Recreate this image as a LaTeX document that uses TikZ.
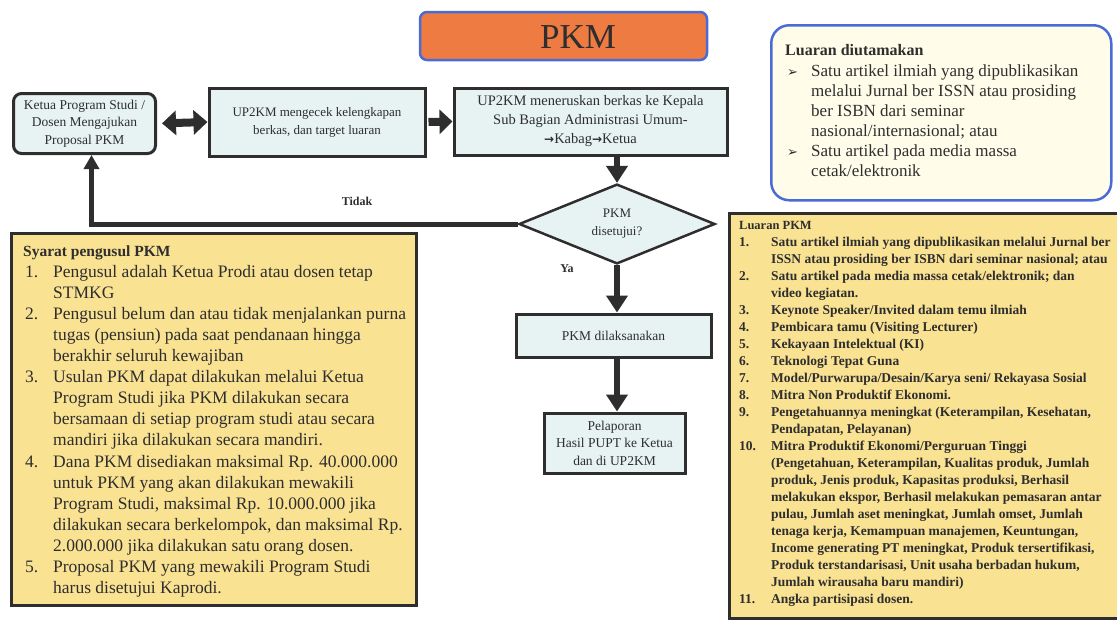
\documentclass[tikz,border=0pt]{standalone}
\usepackage{fontspec}
\setmainfont{Liberation Serif}
\newfontfamily\symfont{DejaVu Sans}
\usetikzlibrary{arrows.meta,shapes.geometric}

\definecolor{ink}{HTML}{2E2E2E}
\definecolor{boxfill}{HTML}{E7F2F2}
\definecolor{notefill}{HTML}{FAE293}
\definecolor{creamfill}{HTML}{FFFDE9}
\definecolor{titlefill}{HTML}{EE7B41}
\definecolor{frameblue}{HTML}{4A6BD6}

\newlength\pkmindent
\newcommand\pkmnum[1]{\makebox[\pkmindent][l]{#1}}
\newcommand\pkmcont{\hspace*{\pkmindent}}
\newcommand\pkmto{{\symfont\bfseries\fontsize{12}{12}\selectfont →}}
\newcommand\pkmbullet{{\symfont\fontsize{13}{13}\selectfont ➢}}

\tikzset{
  flowbox/.style={draw=ink, line width=3pt, fill=boxfill, align=center,
    inner sep=0pt, text=ink, font=\fontsize{13.5}{17.5}\selectfont},
  roundbox/.style={flowbox, rounded corners=8pt},
  decision/.style={diamond, draw=ink, line width=2.5pt, fill=boxfill,
    align=center, inner sep=0pt, text=ink, font=\fontsize{13}{18}\selectfont},
  notebox/.style={draw=ink, line width=2.5pt, fill=notefill, inner sep=0pt},
  flowarrow/.style={draw=ink, line width=6pt, -{Triangle[length=17pt,width=21pt]}},
  backarrow/.style={draw=ink, line width=5pt, -{Triangle[length=14pt,width=15pt]}},
  fatarrow/.style={draw=ink, line width=8pt, -{Triangle[length=13pt,width=24pt]}},
  fatboth/.style={draw=ink, line width=8pt,
    {Triangle[length=14pt,width=24pt]}-{Triangle[length=14pt,width=24pt]}},
  tag/.style={inner sep=0pt, text=ink, font=\bfseries\fontsize{12}{14}\selectfont}
}

\begin{document}
\begin{tikzpicture}[x=1pt,y=-1pt]
\useasboundingbox (0,0) rectangle (1117,625);

% title
\node[draw=frameblue, line width=2.5pt, fill=titlefill, rounded corners=7pt,
  minimum width=287pt, minimum height=48pt, inner sep=0pt] (title) at (563.5,36) {};
\node[inner sep=0pt, text=ink, font=\fontsize{35}{36}\selectfont] (titletext)
  at (578,37) {PKM};

% preferred outputs
\node[draw=frameblue, line width=2.5pt, fill=creamfill, rounded corners=18pt,
  minimum width=340pt, minimum height=175pt, inner sep=0pt, anchor=north west]
  (utama) at (770,24) {};
\node[anchor=base west, inner sep=0pt, text=ink] (utamatext) at (785,55)
  {\parbox[t]{322pt}{\setlength\pkmindent{26pt}\fontsize{17}{20}\selectfont\raggedright
  {\bfseries\fontsize{16}{20}\selectfont Luaran diutamakan}\\[1pt]
  \pkmnum{\hspace*{2pt}\pkmbullet}Satu artikel ilmiah yang dipublikasikan\\
  \pkmcont melalui Jurnal ber ISSN atau prosiding\\
  \pkmcont ber ISBN dari seminar\\
  \pkmcont nasional/internasional; atau\\
  \pkmnum{\hspace*{2pt}\pkmbullet}Satu artikel pada media massa\\
  \pkmcont cetak/elektronik}};

% flow boxes
\node[roundbox, minimum width=142pt, minimum height=60pt] (ajukan) at (84.5,123.5)
  {Ketua Program Studi /\\Dosen Mengajukan\\Proposal PKM};
\node[flowbox, minimum width=216pt, minimum height=68pt,
  font=\fontsize{13}{18}\selectfont] (cek) at (317,122)
  {UP2KM mengecek kelengkapan\\berkas, dan target luaran};
\node[flowbox, minimum width=273pt, minimum height=67pt,
  font=\fontsize{14.5}{19}\selectfont] (teruskan) at (590.5,121.5)
  {UP2KM meneruskan berkas ke Kepala\\Sub Bagian Administrasi Umum-\\\pkmto Kabag\pkmto Ketua};
\node[decision, minimum width=196pt, minimum height=78pt] (setuju) at (617,224)
  {PKM\\disetujui?};
\node[flowbox, minimum width=195pt, minimum height=43pt] (laksana) at (613.5,335.5)
  {PKM dilaksanakan};
\node[flowbox, minimum width=141pt, minimum height=60pt] (lapor) at (614.5,443)
  {Pelaporan\\Hasil PUPT ke Ketua\\dan di UP2KM};

% connectors
\draw[fatboth, shorten <=5pt] (ajukan.east) -- (cek.west);
\draw[fatarrow, shorten <=2pt] (cek.east) -- (teruskan.west);
\draw[flowarrow] (teruskan.south -| setuju.north) -- (setuju.north);
\draw[flowarrow] (setuju.south) -- (setuju.south |- laksana.north);
\draw[flowarrow] (laksana.south -| setuju.south) -- (setuju.south |- lapor.north);
\coordinate (balik) at ([xshift=7pt]ajukan.south);
\draw[backarrow] (setuju.west) -| (balik);
\node[tag] (tidak) at (357,201) {Tidak};
\node[tag] (ya) at (567,269) {Ya};

% proposer requirements
\node[notebox, minimum width=405pt, minimum height=372pt, anchor=north west]
  (syarat) at (10,232) {};
\node[anchor=base west, inner sep=0pt, text=ink] (syarattext) at (23,256)
  {\parbox[t]{392pt}{\setlength\pkmindent{30pt}\fontsize{17.5}{21.1}\selectfont\raggedright
  {\bfseries\fontsize{15.5}{21.1}\selectfont Syarat pengusul PKM}\\
  \pkmnum{\hspace*{2pt}1.}Pengusul adalah Ketua Prodi atau dosen tetap\\
  \pkmcont STMKG\\
  \pkmnum{\hspace*{2pt}2.}Pengusul belum dan atau tidak menjalankan purna\\
  \pkmcont tugas (pensiun) pada saat pendanaan hingga\\
  \pkmcont berakhir seluruh kewajiban\\
  \pkmnum{\hspace*{2pt}3.}Usulan PKM dapat dilakukan melalui Ketua\\
  \pkmcont Program Studi jika PKM dilakukan secara\\
  \pkmcont bersamaan di setiap program studi atau secara\\
  \pkmcont mandiri jika dilakukan secara mandiri.\\
  \pkmnum{\hspace*{2pt}4.}Dana PKM disediakan maksimal Rp. 40.000.000\\
  \pkmcont untuk PKM yang akan dilakukan mewakili\\
  \pkmcont Program Studi, maksimal Rp. 10.000.000 jika\\
  \pkmcont dilakukan secara berkelompok, dan maksimal Rp.\\
  \pkmcont 2.000.000 jika dilakukan satu orang dosen.\\
  \pkmnum{\hspace*{2pt}5.}Proposal PKM yang mewakili Program Studi\\
  \pkmcont harus disetujui Kaprodi.}};

% PKM outputs
\node[notebox, minimum width=392pt, minimum height=405pt, anchor=north west]
  (luaran) at (728,212) {};
\node[anchor=base west, inner sep=0pt, text=ink] (luarantext) at (739,229)
  {\parbox[t]{380pt}{\setlength\pkmindent{32pt}\bfseries\fontsize{13.5}{17}\selectfont\raggedright
  {\fontsize{12.5}{17}\selectfont Luaran PKM}\\
  \pkmnum{1.}Satu artikel ilmiah yang dipublikasikan melalui Jurnal ber\\
  \pkmcont ISSN atau prosiding ber ISBN dari seminar nasional; atau\\
  \pkmnum{2.}Satu artikel pada media massa cetak/elektronik; dan\\
  \pkmcont video kegiatan.\\
  \pkmnum{3.}Keynote Speaker/Invited dalam temu ilmiah\\
  \pkmnum{4.}Pembicara tamu (Visiting Lecturer)\\
  \pkmnum{5.}Kekayaan Intelektual (KI)\\
  \pkmnum{6.}Teknologi Tepat Guna\\
  \pkmnum{7.}Model/Purwarupa/Desain/Karya seni/ Rekayasa Sosial\\
  \pkmnum{8.}Mitra Non Produktif Ekonomi.\\
  \pkmnum{9.}Pengetahuannya meningkat (Keterampilan, Kesehatan,\\
  \pkmcont Pendapatan, Pelayanan)\\
  \pkmnum{10.}Mitra Produktif Ekonomi/Perguruan Tinggi\\
  \pkmcont (Pengetahuan, Keterampilan, Kualitas produk, Jumlah\\
  \pkmcont produk, Jenis produk, Kapasitas produksi, Berhasil\\
  \pkmcont melakukan ekspor, Berhasil melakukan pemasaran antar\\
  \pkmcont pulau, Jumlah aset meningkat, Jumlah omset, Jumlah\\
  \pkmcont tenaga kerja, Kemampuan manajemen, Keuntungan,\\
  \pkmcont Income generating PT meningkat, Produk tersertifikasi,\\
  \pkmcont Produk terstandarisasi, Unit usaha berbadan hukum,\\
  \pkmcont Jumlah wirausaha baru mandiri)\\
  \pkmnum{11.}Angka partisipasi dosen.}};
\end{tikzpicture}
\end{document}
